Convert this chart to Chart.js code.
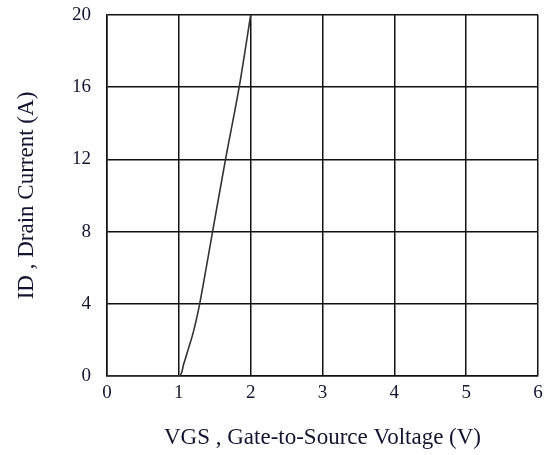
<!DOCTYPE html>
<html>
<head>
<meta charset="utf-8">
<script src="https://cdn.jsdelivr.net/npm/chart.js@4/dist/chart.umd.min.js"></script>
<style>
  html, body { margin: 0; padding: 0; background: #fff; }
  canvas { display: block; }
</style>
</head>
<body>
<canvas id="idChart" width="553" height="455"></canvas>
<script>
// transfer curve
const vgs = [0, 1, 1.07, 1.14, 1.2, 1.29, 1.47, 1.65, 1.84, 2.0];
const drainCurrent = [0, 0, 0.7, 1.6, 2.4, 4, 8, 12, 16, 20];
const xTicks = [0, 1, 2, 3, 4, 5, 6];
const yTicks = [0, 4, 8, 12, 16, 20];

const tickFont = { family: '"Liberation Serif", "DejaVu Serif", serif', size: 19 };
const titleFont = { family: '"Liberation Serif", "DejaVu Serif", serif', size: 23 };
const inkColor = '#141430';

const ctx = document.getElementById('idChart').getContext('2d');
new Chart(ctx, {
    type: 'scatter',
    data: {
        datasets: [{
            data: vgs.map((v, i) => ({ x: v, y: drainCurrent[i] })),
            showLine: true,
            borderColor: '#333',
            borderWidth: 1.6,
            pointRadius: 0,
            tension: 0.3,
            fill: false
        }]
    },
    options: {
        responsive: false,
        animation: false,
        layout: { padding: { top: 15, right: 15, left: 0, bottom: 0 } },
        plugins: { legend: { display: false }, tooltip: { enabled: false } },
        scales: {
            x: {
                type: 'linear', min: 0, max: 6,
                afterBuildTicks: s => { s.ticks = xTicks.map(v => ({ value: v })); },
                afterFit: s => { s.height = 79; s.paddingLeft = 0; s.paddingRight = 0; },
                grid: { color: '#111', lineWidth: 1.5, drawTicks: false },
                border: { color: '#111', width: 1.5 },
                ticks: { font: tickFont, color: inkColor, padding: 6, maxRotation: 0 },
                title: {
                    display: true, text: 'VGS , Gate-to-Source Voltage (V)',
                    font: titleFont, color: inkColor, padding: { top: 0, bottom: 3 }
                }
            },
            y: {
                type: 'linear', min: 0, max: 20,
                afterBuildTicks: s => { s.ticks = yTicks.map(v => ({ value: v })); },
                afterFit: s => { s.width = 107; s.paddingTop = 0; s.paddingBottom = 0; },
                grid: { color: '#111', lineWidth: 1.5, drawTicks: false },
                border: { color: '#111', width: 1.5 },
                ticks: { font: tickFont, color: inkColor, padding: 16 },
                title: {
                    display: true, text: 'ID , Drain Current (A)',
                    font: titleFont, color: inkColor, padding: { top: 13, bottom: 0 }
                }
            }
        }
    }
});
</script>
</body>
</html>
